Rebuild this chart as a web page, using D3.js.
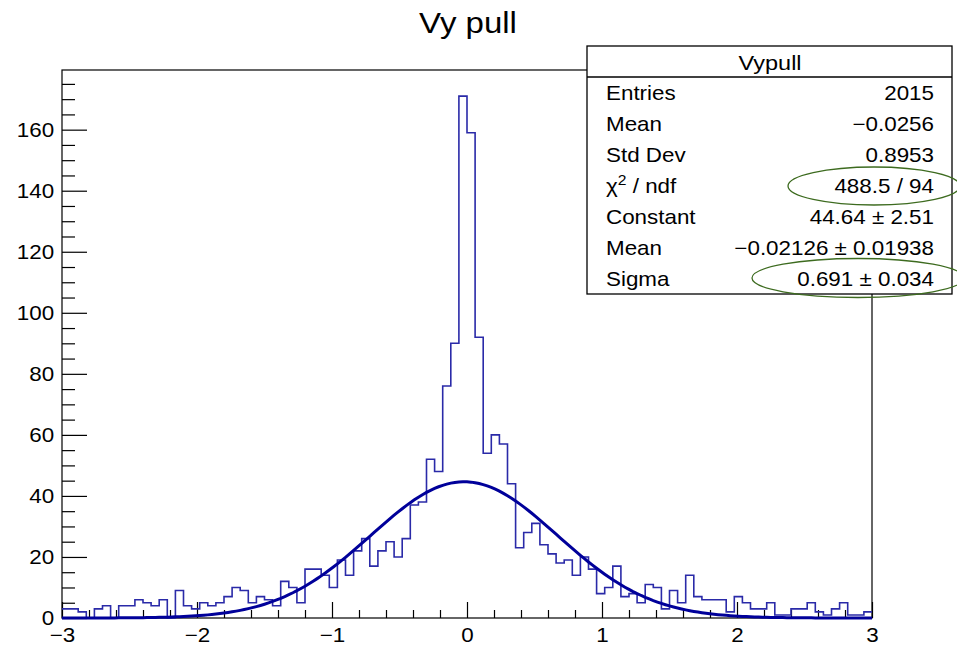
<!DOCTYPE html>
<html>
<head>
<meta charset="utf-8">
<script src="https://cdn.jsdelivr.net/npm/d3@7"></script>
<style>
body { margin: 0; background: #fff; }
text { font-family: "Liberation Sans", Arial, Helvetica, sans-serif; fill: #000; }
</style>
</head>
<body>
<svg id="chart" width="957" height="672"></svg>
<script>
// bin contents, 100 bins from -3 to 3
var counts = [3, 3, 2, 0, 3, 4, 0, 4, 4, 6,
              5, 4, 6, 0, 9, 4, 3, 5, 4, 5,
              7, 10, 9, 5, 7, 6, 4, 12, 10, 5,
              16, 16, 14, 10, 19, 14, 22, 26, 17, 22,
              25, 20, 26, 37, 38, 52, 48, 76, 90, 171,
              159, 92, 54, 60, 57, 44, 23, 28, 31, 24,
              21, 18, 19, 14, 20, 16, 8, 10, 17, 7,
              8, 5, 11, 10, 3, 9, 5, 14, 7, 6,
              6, 6, 2, 7, 5, 3, 3, 5, 1, 1,
              3, 3, 5, 2, 1, 3, 5, 1, 1, 2];
var xRange = [-3, 3];
var xTicks = [-3, -2, -1, 0, 1, 2, 3];
var yTicks = [0, 20, 40, 60, 80, 100, 120, 140, 160];
// gaussian fit parameters (from the stat box)
var fitConst = 44.64, fitMean = -0.02126, fitSigma = 0.691;
var statLabels = ["Entries", "Mean", "Std Dev", "chi2", "Constant", "Mean", "Sigma"];
var statValues = ["2015", "\u22120.0256", "0.8953", "488.5 / 94", "44.64 \u00b1 2.51",
                  "\u22120.02126 \u00b1 0.01938", "0.691 \u00b1 0.034"];

var svg = d3.select('#chart');
var padL = 62, padR = 872, padT = 70, padB = 618;
var sx = 1.12;   // text looks horizontally stretched in the picture

var ymax = d3.max(counts) * 1.05;
var x = d3.scaleLinear().domain(xRange).range([padL, padR]);
var y = d3.scaleLinear().domain([0, ymax]).range([padB, padT]);

// frame
svg.append('rect').attr('x', padL).attr('y', padT).attr('width', padR - padL).attr('height', padB - padT)
	.attr('fill', 'none').attr('stroke', '#000').attr('stroke-width', 1.2);

// y axis
var yMinor = d3.range(0, ymax, 5).filter(d => d % 20 != 0);
svg.append('g').attr('transform', 'translate(' + padL + ',0)')
	.call(d3.axisLeft(y).tickValues(yMinor).tickSize(-13).tickFormat(''));
svg.append('g').attr('transform', 'translate(' + padL + ',0)')
	.call(d3.axisLeft(y).tickValues(yTicks).tickSize(-25).tickPadding(7).tickFormat(d3.format('d')));

// x axis
var xMinor = d3.range(-3, 3.001, 0.2).filter(d => Math.abs(d - Math.round(d)) > 1e-6);
svg.append('g').attr('transform', 'translate(0,' + padB + ')')
	.call(d3.axisBottom(x).tickValues(xMinor).tickSize(-8).tickFormat(''));
svg.append('g').attr('transform', 'translate(0,' + padB + ')')
	.call(d3.axisBottom(x).tickValues(xTicks).tickSize(-16).tickPadding(10)
		.tickFormat(d => d < 0 ? '\u2212' + Math.abs(d) : '' + d));

svg.selectAll('.domain').remove();
svg.selectAll('.tick line').attr('stroke', '#000').attr('stroke-width', 1.2);
svg.selectAll('.tick text').attr('font-size', 20).attr('font-family', '"Liberation Sans", Arial, sans-serif')
	.attr('fill', '#000').attr('transform', 'scale(' + sx + ',1)');

// histogram outline
var binW = (xRange[1] - xRange[0]) / counts.length;
var steps = [];
counts.forEach(function(c, i) {
	steps.push([xRange[0] + i * binW, c]);
	steps.push([xRange[0] + (i + 1) * binW, c]);
});
svg.append('path').attr('d', d3.line().x(d => x(d[0])).y(d => y(d[1]))(steps))
	.attr('fill', 'none').attr('stroke', '#2a2aa8').attr('stroke-width', 1.6);

// fit curve
var fx = d3.range(0, 201).map(i => xRange[0] + i * (xRange[1] - xRange[0]) / 200);
var gauss = v => fitConst * Math.exp(-0.5 * Math.pow((v - fitMean) / fitSigma, 2));
svg.append('path').attr('d', d3.line().x(d => x(d)).y(d => y(gauss(d)))(fx))
	.attr('fill', 'none').attr('stroke', '#00009a').attr('stroke-width', 3);

// title
svg.append('g').attr('transform', 'translate(468,33) scale(1.1,1)')
	.append('text').attr('text-anchor', 'middle').attr('font-size', 30).text('Vy pull');

// stat box
var bx = 587, by = 46, bw = 365, bh = 248;
svg.append('rect').attr('x', bx).attr('y', by).attr('width', bw).attr('height', bh)
	.attr('fill', '#fff').attr('stroke', '#000').attr('stroke-width', 1.3);
svg.append('line').attr('x1', bx).attr('x2', bx + bw).attr('y1', 77).attr('y2', 77)
	.attr('stroke', '#000').attr('stroke-width', 1.3);
svg.append('g').attr('transform', 'translate(770,70) scale(' + sx + ',1)')
	.append('text').attr('text-anchor', 'middle').attr('font-size', 21).text('Vypull');

statLabels.forEach(function(lab, i) {
	var ry = 100 + i * 31;
	var t = svg.append('g').attr('transform', 'translate(606,' + ry + ') scale(' + sx + ',1)')
		.append('text').attr('font-size', 20);
	if (lab == 'chi2') {
		t.append('tspan').text('\u03c7');
		t.append('tspan').attr('font-size', 14).attr('dy', -8).text('2');
		t.append('tspan').attr('dy', 8).text(' / ndf');
	} else t.text(lab);
	svg.append('g').attr('transform', 'translate(934,' + ry + ') scale(' + sx + ',1)')
		.append('text').attr('font-size', 20).attr('text-anchor', 'end').text(statValues[i]);
});

// hand-drawn green ellipses
svg.append('ellipse').attr('cx', 874).attr('cy', 186).attr('rx', 86).attr('ry', 19)
	.attr('fill', 'none').attr('stroke', '#3d6b1f').attr('stroke-width', 1.3);
svg.append('ellipse').attr('cx', 858).attr('cy', 278).attr('rx', 106).attr('ry', 19.5)
	.attr('fill', 'none').attr('stroke', '#3d6b1f').attr('stroke-width', 1.3);
</script>
</body>
</html>
